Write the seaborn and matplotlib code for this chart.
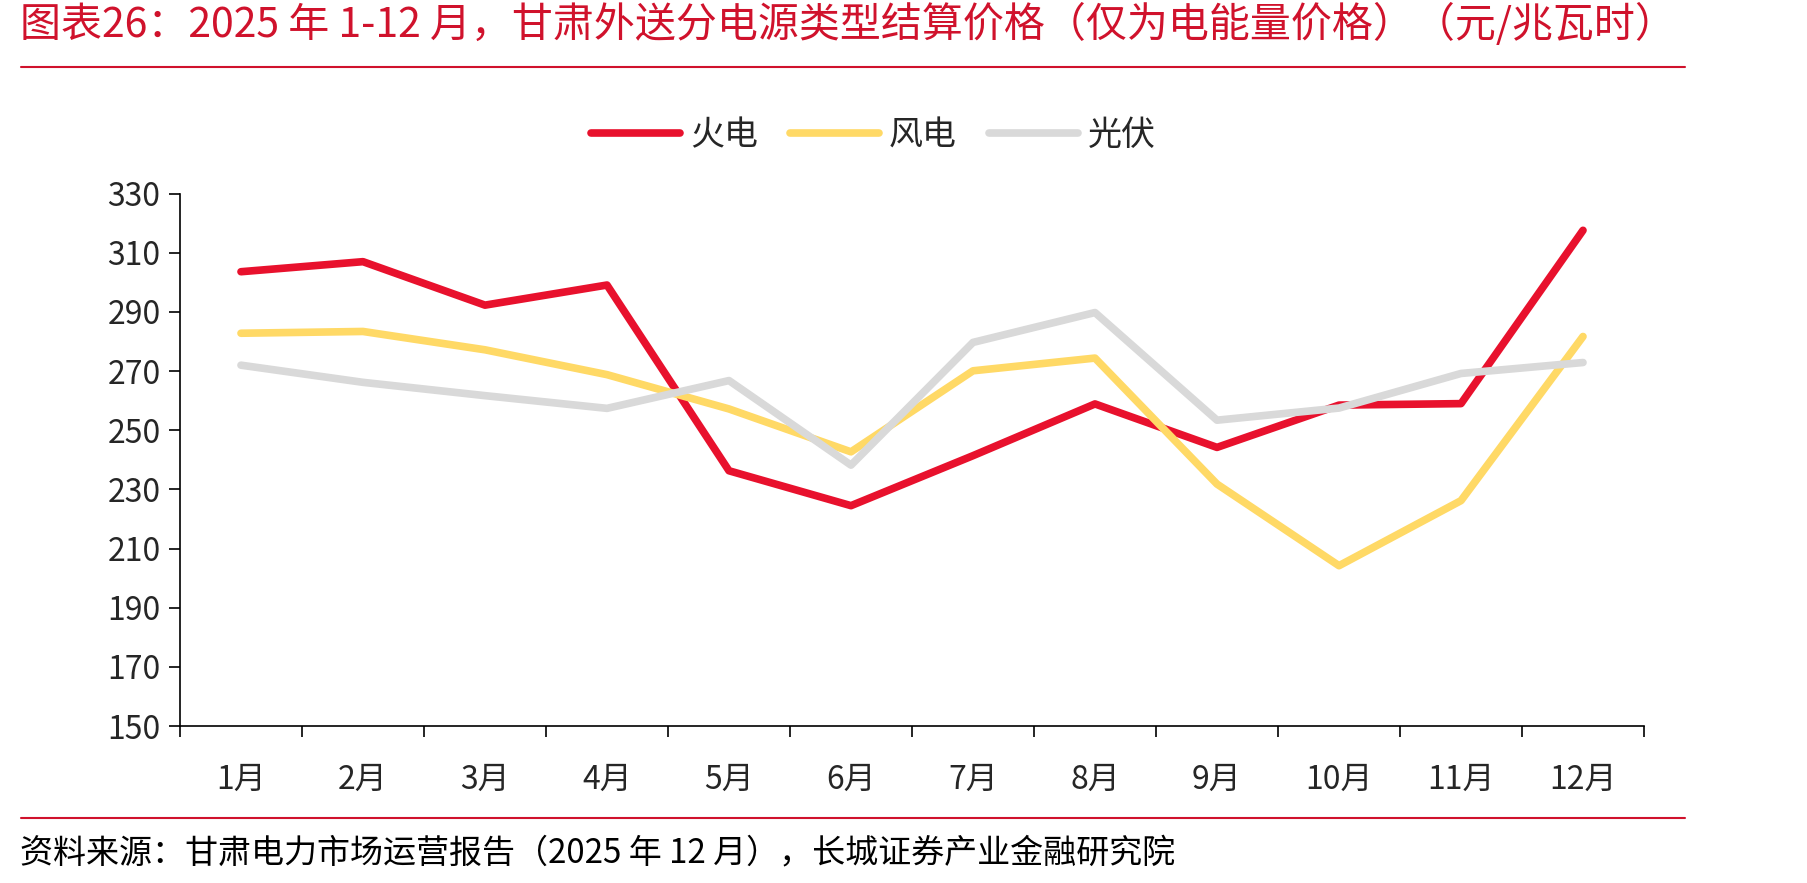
import matplotlib
matplotlib.use('Agg')

import pandas as pd
import seaborn as sns
import matplotlib.pyplot as plt
from matplotlib.ticker import FixedLocator

# data (元/兆瓦时)
months = ['1月', '2月', '3月', '4月', '5月', '6月', '7月', '8月', '9月', '10月', '11月', '12月']
thermal = [303.6, 307.0, 292.3, 299.1, 236.3, 224.5, 241.4, 258.9, 244.2, 258.5, 259.0, 317.6]
wind = [282.8, 283.4, 277.2, 268.8, 257.2, 242.7, 270.1, 274.4, 231.8, 204.2, 226.2, 281.7]
solar = [272.0, 266.2, 261.7, 257.4, 266.8, 238.2, 279.7, 289.8, 253.4, 257.5, 269.2, 272.9]
series_names = ['火电', '风电', '光伏']
colors = ['#E8112D', '#FFD966', '#D9D9D9']

title = '图表26：2025 年 1-12 月，甘肃外送分电源类型结算价格（仅为电能量价格）（元/兆瓦时）'
source = '资料来源：甘肃电力市场运营报告（2025 年 12 月），长城证券产业金融研究院'

sns.set_style('white')
plt.rcParams['font.family'] = ['Noto Sans CJK SC', 'DejaVu Sans']


def main():
	df = pd.DataFrame({'month': months * 3,
					   'pos': list(range(12)) * 3,
					   'value': thermal + wind + solar,
					   'type': [series_names[0]] * 12 + [series_names[1]] * 12 + [series_names[2]] * 12})

	fig = plt.figure(figsize=(18.07, 8.83), dpi=100)
	ax = fig.add_axes([0.0996, 0.1778, 0.8102, 0.6029])

	sns.lineplot(data=df, x='pos', y='value', hue='type', hue_order=series_names,
				 palette=colors, linewidth=5.5, ax=ax, legend=False, sort=False)

	ax.set_xlim(-0.5, 11.5)
	ax.set_ylim(150, 330)
	ax.set_yticks(range(150, 331, 20))
	ax.tick_params(axis='y', left=True, labelsize=23, length=8, width=1.2, direction='out', pad=6, color='black')

	# category boundaries carry the ticks, labels sit at the centres
	ax.xaxis.set_major_locator(FixedLocator([i - 0.5 for i in range(13)]))
	ax.xaxis.set_minor_locator(FixedLocator(list(range(12))))
	ax.set_xticklabels([], minor=False)
	ax.set_xticklabels(months, minor=True)
	ax.tick_params(axis='x', which='major', bottom=True, length=8, width=1.2, direction='out', color='black')
	ax.tick_params(axis='x', which='minor', bottom=True, length=0, labelsize=23, pad=27)

	ax.set_xlabel('')
	ax.set_ylabel('')
	sns.despine(ax=ax)
	for s in ['left', 'bottom']:
		ax.spines[s].set_color('black')
		ax.spines[s].set_linewidth(1.2)
	ax.grid(False)

	handles = [plt.Line2D([], [], color=c, linewidth=5.5, solid_capstyle='round') for c in colors]
	fig.legend(handles, series_names, loc='center', bbox_to_anchor=(0.4835, 0.8464), ncol=3,
			   frameon=False, fontsize=24.5, handlelength=2.6, handletextpad=0.3, columnspacing=0.95)

	# title, rules and source
	fig.text(0.011, 0.972, title, color='#D0122C', fontsize=29.5, style='italic', va='center', ha='left')
	fig.add_artist(plt.Line2D([0.0116, 0.9325], [0.924, 0.924], color='#D0122C', linewidth=1.5))
	fig.add_artist(plt.Line2D([0.0116, 0.9325], [0.074, 0.074], color='#D0122C', linewidth=1.5))
	fig.text(0.011, 0.034, source, color='black', fontsize=23.8, style='italic', va='center', ha='left')

	plt.savefig('out.png', dpi=100)


if __name__ == '__main__':
	main()
